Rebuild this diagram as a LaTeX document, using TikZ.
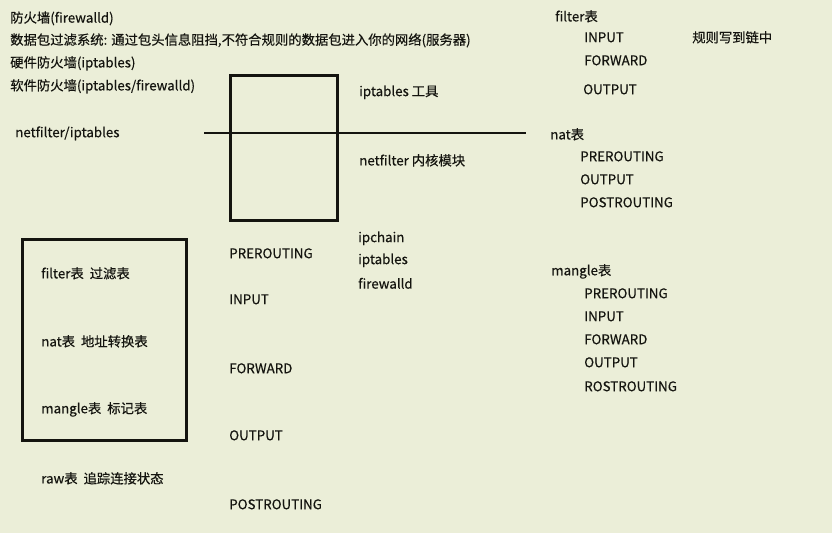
\documentclass[tikz,border=0pt]{standalone}
\usepackage{fontspec}
\setmainfont{Noto Sans CJK SC}[FakeBold=0.4]
\usetikzlibrary{positioning}
\definecolor{paper}{RGB}{235,238,216}
\definecolor{ink}{RGB}{20,20,15}

\begin{document}
\begin{tikzpicture}[x=0.75pt,y=-0.75pt, >=stealth,
        every node/.style={text=ink,font=\fontsize{10}{12}\selectfont},
        lbl/.style={anchor=west,inner sep=0pt,yshift=-1pt},
        frame/.style={draw=ink,line width=2.2pt,inner sep=0pt,anchor=north west}]
        \fill[paper] (0,0) rectangle (832,533);
        \useasboundingbox (0,0) rectangle (832,533);

        % notes at the top left
        \node[lbl] (fw)   at (10,17)  {防火墙(firewalld)};
        \node[lbl] (pkt)  at (10,39)  {数据包过滤系统: 通过包头信息阻挡,不符合规则的数据包进入你的网络(服务器)};
        \node[lbl] (hw)   at (10,62)  {硬件防火墙(iptables)};
        \node[lbl] (sw)   at (10,85)  {软件防火墙(iptables/firewalld)};
        \node[lbl] (nfip) at (15,132) {netfilter/iptables};

        % firewall box split by the kernel line
        \node[frame,minimum width=107*0.75pt,minimum height=145*0.75pt] (wall) at (229,74) {};
        \coordinate (lineL) at (204,133);
        \coordinate (lineR) at (526,133);
        \draw[ink,line width=2.2pt] (lineL) -- (lineR);
        \node[lbl] (tool)   at (359,91)  {iptables 工具};
        \node[lbl] (kernel) at (359,159) {netfilter 内核模块};

        \node[lbl] (ipchain) at (358,237) {ipchain};
        \node[lbl] (ipt)     at (358,259) {iptables};
        \node[lbl] (fwd)     at (358,282) {firewalld};

        % the tables
        \node[frame,minimum width=164*0.75pt,minimum height=201*0.75pt] (tables) at (21,238) {};
        \node[lbl] (tfilter) at (41,272) {filter表\ \ 过滤表};
        \node[lbl] (tnat)    at (41,340) {nat表\ \ 地址转换表};
        \node[lbl] (tmangle) at (41,408) {mangle表\ \ 标记表};
        \node[lbl] (traw)    at (41,477) {raw表\ \ 追踪连接状态};

        % the chains
        \node[lbl] (cpre)  at (229,252) {PREROUTING};
        \node[lbl] (cin)   at (229,298) {INPUT};
        \node[lbl] (cfwd)  at (229,367) {FORWARD};
        \node[lbl] (cout)  at (229,434) {OUTPUT};
        \node[lbl] (cpost) at (229,503) {POSTROUTING};

        % chains of each table
        \node[lbl] (rfilter) at (555,15) {filter表};
        \node[lbl] (rfin)    at (584,36) {INPUT};
        \node[lbl] (rffwd)   at (584,59) {FORWARD};
        \node[lbl] (rfout)   at (583,88) {OUTPUT};
        \node[lbl] (rule)    at (692,36) {规则写到链中};

        \node[lbl] (rnat)    at (550,133) {nat表};
        \node[lbl] (rnpre)   at (580,155) {PREROUTING};
        \node[lbl] (rnout)   at (580,178) {OUTPUT};
        \node[lbl] (rnpost)  at (580,201) {POSTROUTING};

        \node[lbl] (rmangle) at (551,270) {mangle表};
        \node[lbl] (rmpre)   at (584,292) {PREROUTING};
        \node[lbl] (rmin)    at (584,315) {INPUT};
        \node[lbl] (rmfwd)   at (584,338) {FORWARD};
        \node[lbl] (rmout)   at (584,361) {OUTPUT};
        \node[lbl] (rmpost)  at (584,385) {ROSTROUTING};
\end{tikzpicture}
\end{document}
